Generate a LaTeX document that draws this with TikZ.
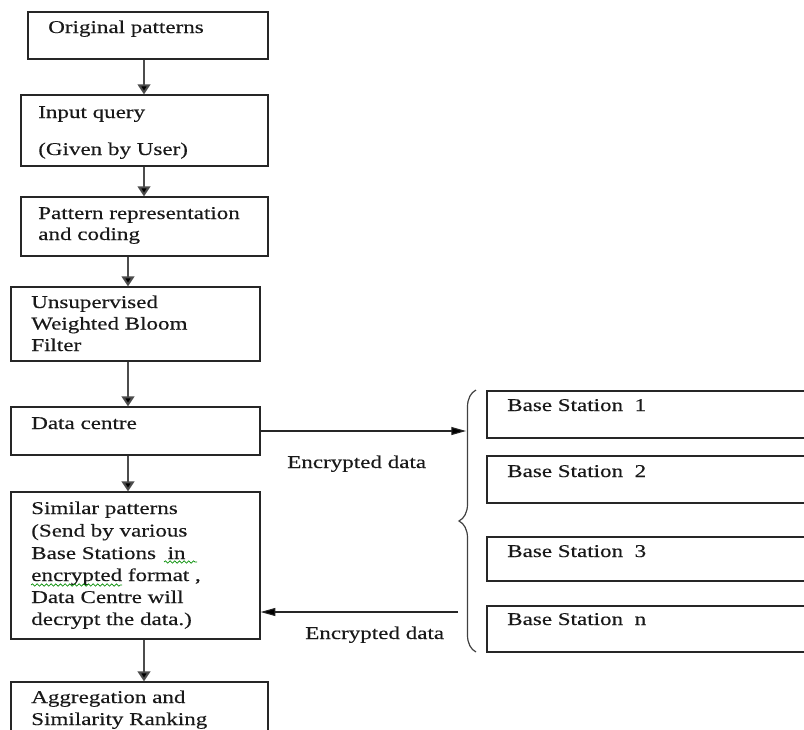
\documentclass[tikz,border=0pt]{standalone}
\usepackage{fontspec}
\setmainfont{Liberation Serif}[FakeStretch=1.28,FakeBold=0.3]
\usetikzlibrary{fit,arrows.meta,decorations.pathreplacing,decorations.pathmorphing}
\begin{document}
\begin{tikzpicture}[x=0.75pt,y=-0.75pt,
 box/.style={draw=black!85, line width=1pt, inner sep=0pt, rectangle},
 txt/.style={anchor=base west, inner sep=0pt, font=\fontsize{13.5pt}{16pt}\selectfont, text=black!90},
 flow/.style={draw=black!70, line width=1.5pt, -{Triangle[width=9.5pt,length=7.5pt,fill=black]}},
 link/.style={draw=black!85, line width=0.8pt, -{Triangle[width=6pt,length=11pt,fill=black]}},
 spell/.style={draw=green!55!black, line width=0.5pt, decorate, decoration={snake, amplitude=0.9pt, segment length=3.5pt}}]
\useasboundingbox (0,0) rectangle (804,729);

% flow boxes
\node[box, fit={(28,12) (268,59)}] (b1) {};
\node[box, fit={(21,95) (268,166)}] (b2) {};
\node[box, fit={(21,197) (268,256)}] (b3) {};
\node[box, fit={(11,287) (260,361)}] (b4) {};
\node[box, fit={(11,407) (260,455)}] (b5) {};
\node[box, fit={(11,492) (260,639)}] (b6) {};
\node[box, fit={(11,682) (268,745)}] (b7) {};

% base station boxes
\node[box, fit={(487,391) (812,438)}] (s1) {};
\node[box, fit={(487,456) (812,503)}] (s2) {};
\node[box, fit={(487,537) (812,581)}] (s3) {};
\node[box, fit={(487,606) (812,652)}] (sn) {};

% texts
\node[txt] (t1) at (48,33) {Original patterns};
\node[txt] (t2a) at (38,118) {Input query};
\node[txt] (t2b) at (38,155) {(Given by User)};
\node[txt] (t3a) at (38,219) {Pattern representation};
\node[txt] (t3b) at (38,240) {and coding};
\node[txt] (t4a) at (31,308) {Unsupervised};
\node[txt] (t4b) at (31,329.5) {Weighted Bloom};
\node[txt] (t4c) at (31,351) {Filter};
\node[txt] (t5) at (31,429) {Data centre};
\node[txt] (t6a) at (31,514) {Similar patterns};
\node[txt] (t6b) at (31,536.5) {(Send by various};
\node[txt] (t6c) at (31,559) {Base Stations\ \ in};
\node[txt] (t6d) at (31,581) {encrypted format ,};
\node[txt] (t6e) at (31,603) {Data Centre will};
\node[txt] (t6f) at (31,625) {decrypt the data.)};
\node[txt] (t7a) at (31,703) {Aggregation and};
\node[txt] (t7b) at (31,725) {Similarity Ranking};

\node[txt] (st1) at (507,411) {Base Station\ \ 1};
\node[txt] (st2) at (507,477) {Base Station\ \ 2};
\node[txt] (st3) at (507,557) {Base Station\ \ 3};
\node[txt] (stn) at (507,625) {Base Station\ \ n};

\node[txt] (e1) at (287,468) {Encrypted data};
\node[txt] (e2) at (305,639) {Encrypted data};

% spell-check marks
\coordinate (w1a) at (164,562);
\coordinate (w1b) at (197,562);
\coordinate (w2a) at (31,585);
\coordinate (w2b) at (122,585);
\draw[spell] (w1a) -- (w1b);
\draw[spell] (w2a) -- (w2b);

% vertical flow arrows
\coordinate (c12) at (144,0);
\coordinate (c23) at (144,0);
\coordinate (c34) at (128,0);
\coordinate (c45) at (128,0);
\coordinate (c56) at (128,0);
\coordinate (c67) at (144,0);
\draw[flow] (b1.south -| c12) -- (b2.north -| c12);
\draw[flow] (b2.south -| c23) -- (b3.north -| c23);
\draw[flow] (b3.south -| c34) -- (b4.north -| c34);
\draw[flow] (b4.south -| c45) -- (b5.north -| c45);
\draw[flow] (b5.south -| c56) -- (b6.north -| c56);
\draw[flow] (b6.south -| c67) -- (b7.north -| c67);

% brace
\coordinate (brtop) at (476,390);
\coordinate (brbot) at (476,652);
\draw[black!75, line width=0.9pt, decorate, decoration={brace, amplitude=12.75pt}] (brbot) -- (brtop);

% horizontal links
\coordinate (in1) at (466,431);
\coordinate (out1) at (458,612);
\draw[link] (b5.east |- in1) -- (in1);
\draw[link] (out1) -- (b6.east |- out1);
\end{tikzpicture}
\end{document}
